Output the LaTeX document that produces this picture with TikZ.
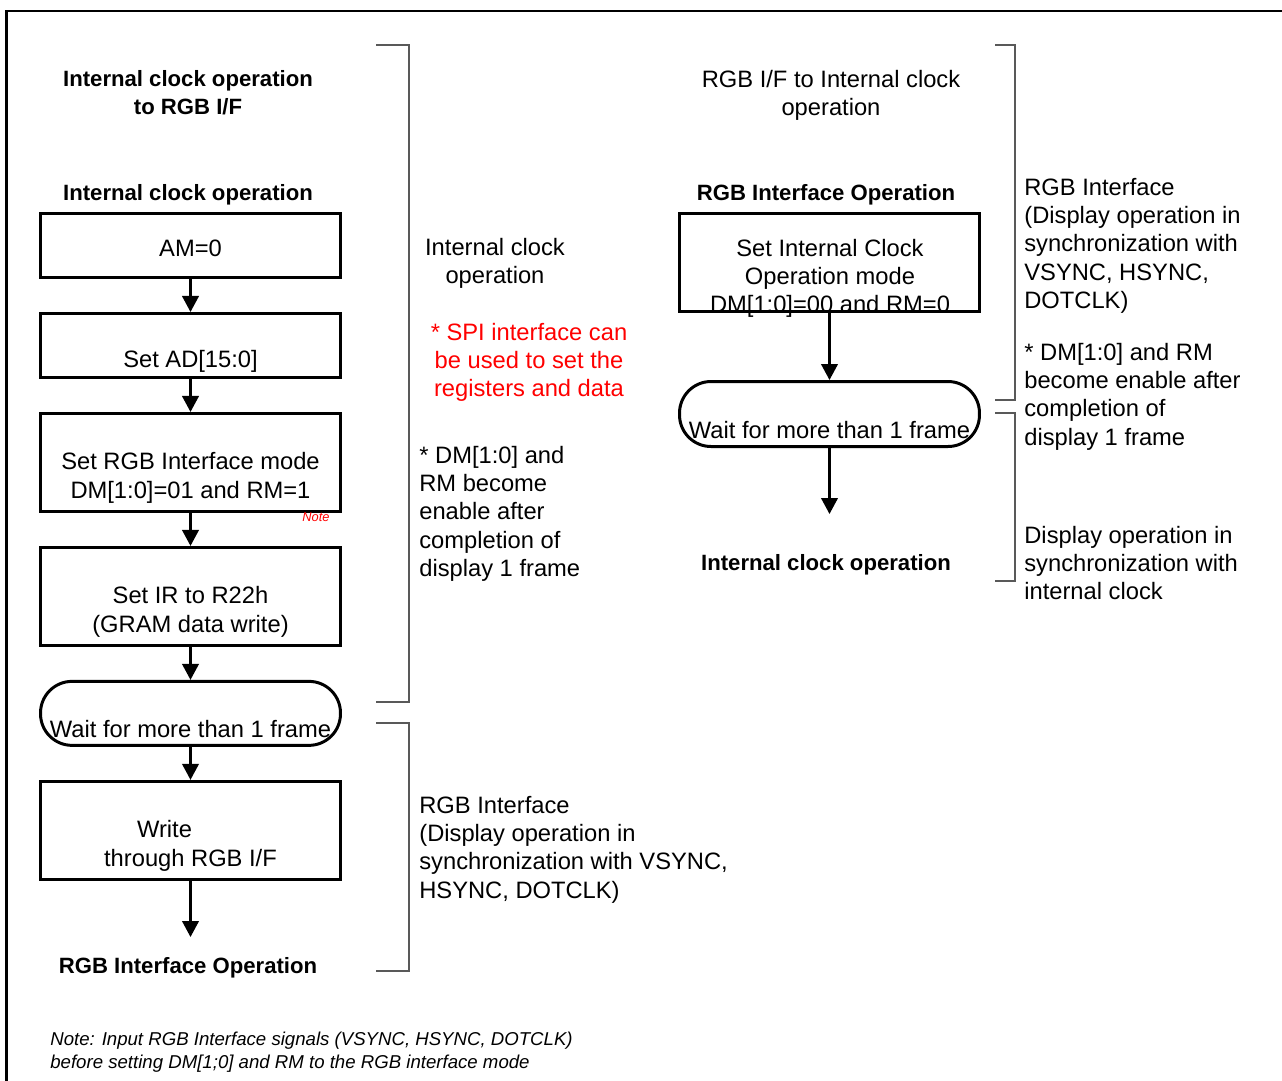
\documentclass[tikz,border=0pt]{standalone}
\usepackage{fontspec}
\setmainfont{Liberation Sans}
\usetikzlibrary{positioning,arrows.meta}

\begin{document}
\begin{tikzpicture}[x=0.02cm, y=-0.02cm, node distance={6.6mm},
    box/.style = {draw, line width=1.7pt, minimum width=6cm, inner sep=0pt, align=center, font=\fontsize{13.5}{16.2}\selectfont},
    wait/.style = {box, rounded corners=6.3mm, minimum height=1.28cm},
    arr/.style = {-{Triangle[length=3.2mm,width=3.3mm]}, line width=1.4pt},
    txt/.style = {inner sep=0pt, font=\fontsize{13.5}{16.2}\selectfont},
    head/.style = {inner sep=0pt, align=center, font=\fontsize{12.6}{16}\selectfont\bfseries},
    brace/.style = {draw=black!65, line width=0.8pt}]
    \useasboundingbox (0,0) rectangle (1282,1080);
    \clip (0,0) rectangle (1282,1080);
    \draw[line width=1.4pt] (6.5,1100) -- (6.5,11) -- (1300,11);

    % internal clock -> RGB I/F
    \node[head, anchor=north] (lefttitle) at (188,70) {Internal clock operation\\to RGB I/F};
    \node[head, anchor=north] (leftstart) at (188,184) {Internal clock operation};
    \node[box, minimum height=1.28cm] (am) at (190.5,245.5) {\raisebox{-2.2mm}[0pt][0pt]{AM=0}};
    \node[box, minimum height=1.28cm, below=of am] (ad) {\strut\\Set AD[15:0]};
    \node[box, minimum height=1.96cm, below=of ad] (mode) {\strut\\Set RGB Interface mode\\DM[1:0]=01 and RM=1};
    \node[box, minimum height=1.96cm, below=of mode] (ir) {\strut\\Set IR to R22h\\(GRAM data write)};
    \node[wait, below=of ir] (wait1) {\strut\\Wait for more than 1 frame};
    \node[box, minimum height=1.96cm, below=of wait1] (write) {\strut\\\mbox{Write\hspace{1.04cm}}\\through RGB I/F};
    \coordinate (leftend) at (190.5,937);
    \node[head, anchor=north] (leftstop) at (188,957) {RGB Interface Operation};
    \node[text=red, inner sep=0pt, font=\fontsize{7.3}{8}\selectfont\itshape] (note1) at (316,517) {Note};
    \draw[arr] (am) -- (ad);
    \draw[arr] (ad) -- (mode);
    \draw[arr] (mode) -- (ir);
    \draw[arr] (ir) -- (wait1);
    \draw[arr] (wait1) -- (write);
    \draw[arr] (write) -- (leftend);

    \node[txt, anchor=north, align=center] (lefticop) at (495,237.5) {Internal clock\\operation};
    \node[txt, anchor=north, align=center, text=red] (spi) at (529,322.5) {* SPI interface can\\be used to set the\\registers and data};
    \node[txt, anchor=north west, align=left] (lefthint) at (419,445.5) {* DM[1:0] and\\RM become\\enable after\\completion of\\display 1 frame};
    \node[txt, anchor=north west, align=left] (leftrgb) at (419,795.5) {RGB Interface\\(Display operation in\\synchronization with VSYNC,\\HSYNC, DOTCLK)};
    \draw[brace] (376,45) -- (409,45) -- (409,702) -- (376,702);
    \draw[brace] (376,723) -- (409,723) -- (409,971) -- (376,971);

    % RGB I/F -> internal clock
    \node[txt, anchor=north, align=center] (righttitle) at (831,69.5) {RGB I/F to Internal clock\\operation};
    \node[head, anchor=north] (rightstart) at (826,184) {RGB Interface Operation};
    \node[box, minimum height=1.96cm] (icmode) at (829.5,262.5) {};
    \node[txt, anchor=north, align=center] (icmodetext) at (830,238.5) {Set Internal Clock\\Operation mode\\DM[1:0]=00 and RM=0};
    \node[wait, minimum height=1.3cm] (wait2) at (829.5,414) {\strut\\Wait for more than 1 frame};
    \coordinate (rightend) at (829.5,514);
    \node[head, anchor=north] (rightstop) at (826,554) {Internal clock operation};
    \draw[arr] (icmode) -- (wait2);
    \draw[arr] (wait2) -- (rightend);
    \draw[brace] (995,45) -- (1015,45) -- (1015,400) -- (995,400);
    \draw[brace] (995,413) -- (1015,413) -- (1015,581) -- (995,581);
    \node[txt, anchor=north west, align=left] (rightrgb) at (1024,177.5) {RGB Interface\\(Display operation in\\synchronization with\\VSYNC, HSYNC,\\DOTCLK)};
    \node[txt, anchor=north west, align=left] (righthint) at (1024,342.5) {* DM[1:0] and RM\\become enable after\\completion of\\display 1 frame};
    \node[txt, anchor=north west, align=left] (rightic) at (1024,525.5) {Display operation in\\synchronization with\\internal clock};

    \node[inner sep=0pt, anchor=north west, align=left, font=\fontsize{10.6}{13}\selectfont\itshape] (footnote) at (50,1032) {Note: Input RGB Interface signals (VSYNC, HSYNC, DOTCLK)\\before setting DM[1;0] and RM to the RGB interface mode};
\end{tikzpicture}
\end{document}
